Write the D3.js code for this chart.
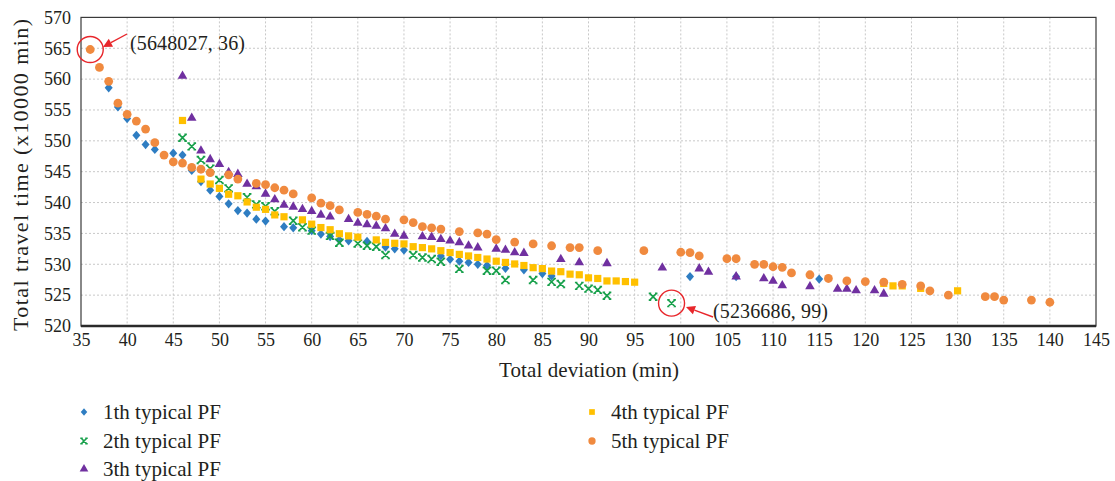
<!DOCTYPE html>
<html><head><meta charset="utf-8">
<script src="https://cdn.jsdelivr.net/npm/d3@7"></script>
<style>
body{margin:0;background:#fff;}
text{font-family:"Liberation Serif","DejaVu Serif",serif;fill:#231f20;}
</style></head>
<body><svg id="c" width="1115" height="481"></svg>
<script>
const xTicks=[35,40,45,50,55,60,65,70,75,80,85,90,95,100,105,110,115,120,125,130,135,140,145];
const yTicks=[520,525,530,535,540,545,550,555,560,565,570];
const seriesNames=["1th typical PF","2th typical PF","3th typical PF","4th typical PF","5th typical PF"];

const s1x=[38,39,40,41,42,43,45,46,47,48,49,50,51,52,53,54,55,57,58,60,61,62,63,64,66,68,69,70,74,75,76,77,78,79,81,83,85,86,101,106,115];
const s1y=[558.6,555.5,553.6,550.9,549.4,548.6,548.0,547.7,545.2,543.4,542.0,541.0,539.8,538.7,538.3,537.3,537.0,536.1,535.9,535.45,534.9,534.5,533.95,533.8,533.7,532.8,532.5,532.3,531.35,530.8,530.5,530.3,530.0,529.8,529.35,529.1,528.5,528.1,528.0,528.0,527.6];

const s2x=[46,47,48,49,50,51,53,54,55,56,58,59,60,62,63,65,66,67,68,71,72,73,74,76,79,80,81,84,86,87,89,90,91,92,97,99];
const s2y=[550.5,549.1,546.9,545.5,543.65,542.3,540.85,539.7,539.4,538.6,537.05,536.0,535.45,534.6,533.5,533.35,533.0,532.85,531.5,531.5,531.1,530.85,530.4,529.25,528.95,528.95,527.45,527.45,527.15,526.8,526.5,526.05,525.85,524.9,524.75,523.7];

const s3x=[46,47,48,49,50,51,52,53,54,55,56,57,58,59,60,61,62,64,65,66,67,68,69,70,72,73,74,75,76,77,78,80,81,82,83,87,89,92,98,102,103,106,109,110,111,114,117,118,119,121,122];
const s3y=[560.5,553.7,548.4,547.0,546.2,544.9,544.6,543.0,542.6,541.4,540.5,539.6,539.3,538.9,538.6,538.0,537.7,537.3,536.7,536.45,536.2,535.8,534.9,534.6,534.5,534.4,534.05,533.8,533.55,533.0,532.7,532.5,532.3,531.9,531.8,530.8,530.3,530.15,529.45,529.3,528.75,528.0,527.7,527.3,526.55,526.4,526.0,526.0,525.75,525.75,525.2];

const s4x=[46,48,49,50,51,52,53,54,55,56,57,59,60,61,62,63,64,65,67,68,69,70,71,72,73,74,75,76,77,78,79,80,81,82,83,84,85,86,87,88,89,90,91,92,93,94,95,122,123,124,126,130];
const s4y=[553.3,543.8,543.0,542.3,541.35,541.1,540.1,539.25,538.9,538.0,537.7,537.2,536.5,535.95,535.6,534.95,534.6,534.4,533.95,533.55,533.4,533.3,532.85,532.7,532.5,532.2,531.9,531.6,531.35,531.1,530.85,530.5,530.3,530.05,529.8,529.45,529.3,528.9,528.8,528.4,528.3,527.8,527.7,527.3,527.3,527.2,527.1,526.9,526.5,526.5,526.1,525.7];

const s5x=[36,37,38,39,40,41,42,43,44,45,46,47,48,49,51,52,54,55,56,57,58,60,61,62,63,65,66,67,68,70,71,72,73,74,76,78,79,80,82,84,86,88,89,91,96,100,101,102,105,106,108,109,110,111,112,114,116,118,120,122,124,126,127,129,133,134,135,138,140];
const s5y=[564.8,561.9,559.65,556.1,554.3,553.2,551.9,549.7,547.7,546.6,546.4,545.7,545.4,544.85,544.5,543.8,543.1,542.9,542.4,542.0,541.4,540.75,539.9,539.5,538.8,538.4,538.1,537.8,537.3,537.2,536.75,536.1,535.9,535.7,535.3,535.1,534.9,534.0,533.6,533.3,533.0,532.7,532.7,532.2,532.2,531.95,531.9,531.35,530.9,530.9,530.0,530.0,529.6,529.5,528.6,528.3,527.7,527.3,527.2,527.1,526.75,526.5,525.7,525.0,524.75,524.75,524.2,524.2,523.85];

const colors=["#2E7DC2","#17A04B","#7030A0","#FFC000","#F08A3F"];

const svg=d3.select("#c");
const L=81,R=1096,T=17.4,B=326;
const x=d3.scaleLinear().domain([35,145]).range([L,R]);
const y=d3.scaleLinear().domain([520,570]).range([B,T]);

// gridlines
const g=svg.append("g");
g.selectAll(".vg").data(xTicks.slice(1,-1)).join("line")
 .attr("x1",d=>x(d)).attr("x2",d=>x(d)).attr("y1",T).attr("y2",B)
 .attr("stroke","#c8c8c8").attr("stroke-width",1).attr("stroke-dasharray","2,2");
g.selectAll(".hg").data(yTicks.slice(1,-1)).join("line")
 .attr("y1",d=>y(d)).attr("y2",d=>y(d)).attr("x1",L).attr("x2",R)
 .attr("stroke","#c8c8c8").attr("stroke-width",1).attr("stroke-dasharray","2,2");

// frame
svg.append("rect").attr("x",L).attr("y",T).attr("width",R-L).attr("height",B-T)
 .attr("fill","none").attr("stroke","#3a3a3a").attr("stroke-width",1.2);
svg.append("line").attr("x1",L).attr("x2",R).attr("y1",B).attr("y2",B).attr("stroke","#2a2a2a").attr("stroke-width",2.4);

// axes
const xa=svg.append("g").attr("transform",`translate(0,${B})`)
 .call(d3.axisBottom(x).tickValues(xTicks).tickSize(0).tickPadding(7).tickFormat(d3.format("d")));
xa.select(".domain").remove();
xa.selectAll("text").style("font-size","18px").style("font-family","Liberation Serif, serif").attr("fill","#231f20");
const ya=svg.append("g").attr("transform",`translate(${L},0)`)
 .call(d3.axisLeft(y).tickValues(yTicks).tickSize(0).tickPadding(10).tickFormat(d3.format("d")));
ya.select(".domain").remove();
ya.selectAll("text").style("font-size","18px").style("font-family","Liberation Serif, serif").attr("fill","#231f20");

svg.append("text").attr("x",589).attr("y",377).attr("text-anchor","middle")
 .attr("textLength",180).attr("lengthAdjust","spacing")
 .style("font-size","21px").text("Total deviation (min)");
svg.append("text").attr("transform",`translate(28,175) rotate(-90)`).attr("text-anchor","middle")
 .attr("textLength",312).attr("lengthAdjust","spacing")
 .style("font-size","22px").text("Total travel time (x10000 min)");

// markers
function drawMarker(sel,type,color,size){
  if(type===0){
    const w=size*0.5,h=size*0.58;
    sel.append("path").attr("d",`M0,${-h}L${w},0L0,${h}L${-w},0Z`).attr("fill",color);
  }else if(type===1){
    const h=size*0.42;
    sel.append("path").attr("d",`M${-h},${-h}L${h},${h}M${-h},${h}L${h},${-h}M${-h-1},${-h}L${-h+1.5},${-h}M${h-1.5},${-h}L${h+1},${-h}M${-h-1},${h}L${-h+1.5},${h}M${h-1.5},${h}L${h+1},${h}`)
     .attr("stroke",color).attr("stroke-width",1.7).attr("fill","none");
  }else if(type===2){
    sel.append("path").attr("d",d3.symbol(d3.symbolTriangle,size*5.0)).attr("fill",color);
  }else if(type===3){
    sel.append("rect").attr("x",-size/2+0.4).attr("y",-size/2+0.4).attr("width",size-0.8).attr("height",size-0.8).attr("fill",color);
  }else{
    sel.append("circle").attr("r",size/2+0.4).attr("fill",color);
  }
}
const seriesX=[s1x,s2x,s3x,s4x,s5x], seriesY=[s1y,s2y,s3y,s4y,s5y];
[0,1,2,3,4].forEach(i=>{
  const data=seriesX[i].map((v,k)=>[v,seriesY[i][k]]);
  const gs=svg.append("g");
  gs.selectAll("g").data(data).join("g")
   .attr("transform",d=>`translate(${x(d[0])},${y(d[1])})`)
   .each(function(){drawMarker(d3.select(this),i,colors[i],8);});
});

// annotations
const red="#e8262b";
function annot(px,py,text,tx,ty,ax1,ay1,ax2,ay2){
  svg.append("circle").attr("cx",x(px)).attr("cy",y(py)).attr("r",13).attr("fill","none").attr("stroke",red).attr("stroke-width",1.4);
  const dx=ax2-ax1,dy=ay2-ay1,len=Math.hypot(dx,dy),ux=dx/len,uy=dy/len;
  const hl=9,hw=4.5;
  const bx=ax2-ux*hl,by=ay2-uy*hl;
  svg.append("line").attr("x1",ax1).attr("y1",ay1).attr("x2",bx).attr("y2",by).attr("stroke",red).attr("stroke-width",1.4);
  svg.append("path").attr("d",`M${ax2},${ay2}L${bx-uy*hw},${by+ux*hw}L${bx+uy*hw},${by-ux*hw}Z`).attr("fill",red);
  svg.append("text").attr("x",tx).attr("y",ty).attr("textLength",115).attr("lengthAdjust","spacing")
   .style("font-size","20px").text(text);
}
annot(36,564.8,"(5648027, 36)",130,50,127,34,103,47);
annot(99,523.7,"(5236686, 99)",713,318,713,317,686,307);

// legend
const legX=[84,84,84,592,592], legY=[412,441,469,412,441];
seriesNames.forEach((n,i)=>{
  const gl=svg.append("g").attr("transform",`translate(${legX[i]},${legY[i]})`);
  drawMarker(gl,i,colors[i],6.5);
  gl.append("text").attr("x",19).attr("y",6.5).attr("textLength",118).attr("lengthAdjust","spacing")
   .style("font-size","21px").text(n);
});
</script></body></html>
